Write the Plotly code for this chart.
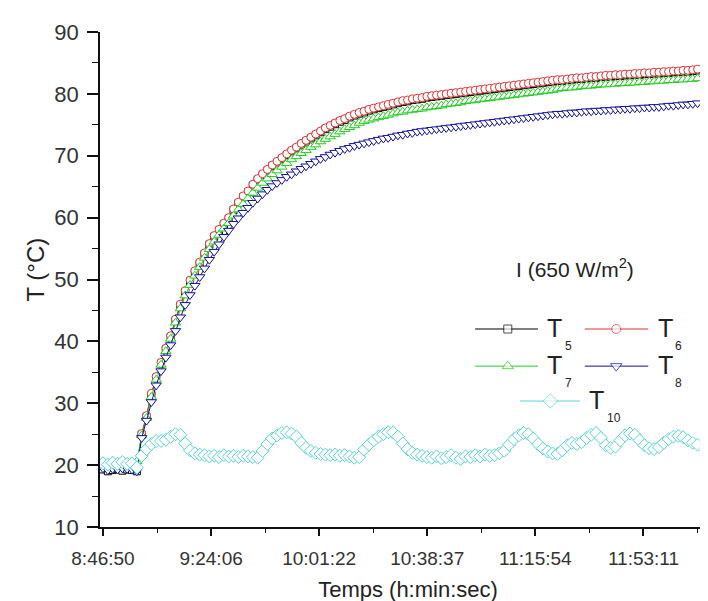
import plotly.graph_objects as go

# ---------------- data ----------------
START_SEC = 31610          # 8:46:50
STEP_SEC = 100             # sampling interval (s)

tick_labels = ["8:46:50", "9:24:06", "10:01:22", "10:38:37", "11:15:54", "11:53:11"]
tick_seconds = [31610, 33846, 36082, 38317, 40554, 42791]
minor_seconds = [32728, 34964, 37200, 39436, 41672, 43909]

T5 = [19.3, 19.0, 19.2, 19.4, 19.1, 19.3, 19.2, 19.0,
      24.9, 27.8, 31.3, 34.1, 36.4, 38.7, 40.7,
      43.4, 45.8, 48.0, 49.7, 51.2, 52.6, 54.1, 55.6, 56.9, 57.9,
      58.9, 59.8, 61.2, 62.3, 63.3, 64.1, 65.2, 66.1, 66.9, 67.6,
      68.3, 68.9, 69.5, 70.1, 70.7, 71.2, 71.8, 72.3, 72.8, 73.3,
      73.8, 74.3, 74.7, 75.1, 75.5, 75.8, 76.2, 76.5, 76.8, 77.0,
      77.3, 77.5, 77.7, 77.9, 78.1, 78.3, 78.5, 78.7, 78.8, 79.0,
      79.1, 79.2, 79.4, 79.5, 79.6, 79.7, 79.8, 79.9, 80.0, 80.1,
      80.2, 80.3, 80.4, 80.5, 80.6, 80.7, 80.8, 80.9, 81.0, 81.1,
      81.2, 81.3, 81.4, 81.5, 81.6, 81.7, 81.8, 81.9, 82.0, 82.1,
      82.1, 82.2, 82.3, 82.4, 82.4, 82.5, 82.6, 82.6, 82.7, 82.8,
      82.8, 82.9, 82.9, 83.0, 83.0, 83.1, 83.1, 83.2, 83.2, 83.3,
      83.3, 83.4, 83.4, 83.5, 83.5, 83.6, 83.6, 83.7, 83.8]

T6 = [19.8, 19.7, 19.9, 19.8, 19.9, 19.8, 19.7, 19.5,
      25.1, 28.0, 31.6, 34.3, 36.6, 38.9, 40.9,
      43.6, 46.0, 48.2, 49.9, 51.4, 52.8, 54.3, 55.8, 57.1, 58.1,
      59.1, 60.0, 61.4, 62.5, 63.5, 64.3, 65.4, 66.3, 67.1, 67.8,
      68.5, 69.1, 69.7, 70.3, 70.9, 71.4, 72.0, 72.5, 73.0, 73.5,
      74.0, 74.5, 74.9, 75.3, 75.7, 76.0, 76.4, 76.7, 77.0, 77.2,
      77.5, 77.7, 77.9, 78.1, 78.3, 78.5, 78.7, 78.9, 79.0, 79.2,
      79.3, 79.4, 79.6, 79.7, 79.8, 79.9, 80.0, 80.1, 80.2, 80.3,
      80.4, 80.5, 80.6, 80.7, 80.8, 80.9, 81.0, 81.1, 81.2, 81.3,
      81.4, 81.5, 81.6, 81.7, 81.8, 81.9, 82.0, 82.1, 82.2, 82.3,
      82.3, 82.4, 82.5, 82.6, 82.6, 82.7, 82.8, 82.8, 82.9, 83.0,
      83.0, 83.1, 83.1, 83.2, 83.2, 83.3, 83.3, 83.4, 83.4, 83.5,
      83.5, 83.6, 83.6, 83.7, 83.7, 83.8, 83.8, 83.9, 84.0]

T7 = [20.2, 20.3, 20.2, 20.4, 20.3, 20.4, 20.5, 20.6,
      24.8, 27.6, 31.0, 33.8, 36.2, 38.4, 40.4,
      43.0, 45.3, 47.4, 49.1, 50.6, 52.0, 53.5, 54.9, 56.1, 57.2,
      58.2, 59.1, 60.3, 61.3, 62.2, 63.1, 64.0, 64.8, 65.6, 66.3,
      67.0, 67.6, 68.2, 68.8, 69.4, 69.9, 70.4, 70.9, 71.4, 71.8,
      72.3, 72.7, 73.1, 73.5, 73.9, 74.3, 74.6, 74.9, 75.3, 75.6,
      75.8, 76.0, 76.2, 76.4, 76.6, 76.8, 77.0, 77.1, 77.3, 77.4,
      77.5, 77.6, 77.8, 77.9, 78.0, 78.1, 78.3, 78.4, 78.5, 78.6,
      78.8, 78.9, 79.0, 79.1, 79.2, 79.3, 79.4, 79.5, 79.6, 79.7,
      79.8, 79.9, 80.0, 80.1, 80.2, 80.3, 80.4, 80.5, 80.6, 80.8,
      80.9, 81.0, 81.0, 81.1, 81.2, 81.3, 81.3, 81.4, 81.5, 81.5,
      81.6, 81.6, 81.7, 81.7, 81.8, 81.8, 81.9, 81.9, 82.0, 82.0,
      82.1, 82.1, 82.2, 82.2, 82.3, 82.3, 82.4, 82.4, 82.5]

T8 = [19.5, 19.2, 19.4, 19.3, 19.5, 19.4, 19.3, 19.0,
      24.4, 27.2, 30.2, 32.9, 35.2, 37.4, 39.4,
      41.7, 43.9, 45.9, 47.5, 49.0, 50.4, 51.8, 53.2, 54.5, 55.7,
      56.9, 57.9, 59.0, 59.9, 60.8, 61.6, 62.4, 63.1, 63.8, 64.5,
      65.1, 65.6, 66.1, 66.6, 67.0, 67.5, 67.9, 68.3, 68.7, 69.1,
      69.5, 69.8, 70.2, 70.5, 70.8, 71.1, 71.3, 71.6, 71.8, 72.0,
      72.2, 72.4, 72.6, 72.8, 72.9, 73.1, 73.3, 73.4, 73.6, 73.7,
      73.9, 74.0, 74.1, 74.2, 74.3, 74.4, 74.5, 74.6, 74.7, 74.8,
      74.9, 75.0, 75.1, 75.2, 75.3, 75.4, 75.5, 75.6, 75.7, 75.8,
      75.9, 76.0, 76.1, 76.2, 76.3, 76.4, 76.5, 76.6, 76.7, 76.8,
      76.8, 76.9, 77.0, 77.0, 77.1, 77.2, 77.2, 77.3, 77.3, 77.4,
      77.4, 77.5, 77.5, 77.6, 77.6, 77.7, 77.7, 77.8, 77.8, 77.9,
      77.9, 78.0, 78.1, 78.1, 78.2, 78.3, 78.3, 78.4, 78.5]

T10 = [20.3, 20.1, 20.4, 20.2, 20.5, 20.2, 20.3, 19.6, 21.5, 22.6,
       23.4, 23.9, 23.9, 24.1, 24.6, 25.0, 24.9, 23.5, 22.4, 21.9,
       21.7, 21.6, 21.4, 21.5, 21.3, 21.6, 21.4, 21.5, 21.3, 21.5,
       21.4, 21.3, 21.2, 22.3, 23.4, 24.3, 24.8, 25.2, 25.3, 25.1,
       24.6, 23.6, 22.8, 22.3, 22.0, 21.8, 21.7, 21.6, 21.7, 21.5,
       21.6, 21.4, 21.2, 21.3, 22.5, 23.3, 24.0, 24.6, 25.0, 25.3,
       25.3, 24.6, 23.5, 22.6, 22.0, 21.7, 21.5, 21.3, 21.2, 21.4,
       21.1, 21.3, 21.6, 21.2, 21.0, 21.4, 21.3, 21.6, 21.4, 21.7,
       21.5, 21.6, 21.9, 22.3, 23.3, 24.2, 24.8, 25.2, 25.0, 24.3,
       23.4, 22.7, 22.2, 21.9, 21.8, 22.4, 23.2, 23.6, 23.4, 23.7,
       24.4, 24.9, 25.2, 24.4, 23.2, 22.8, 23.0, 24.0, 24.8, 25.1,
       24.9, 24.0, 23.2, 22.7, 22.6, 22.9, 23.6, 24.2, 24.6, 24.7,
       24.5, 24.0, 23.6, 23.3]

series_names = ["T5", "T6", "T7", "T8", "T10"]
series_values = [T5, T6, T7, T8, T10]
series_subs = ["5", "6", "7", "8", "10"]

# ---------------- styles ----------------
colors = ["#000000", "#e03232", "#22cc22", "#10109a", "#55d4d4"]
symbols = ["square", "circle", "triangle-up", "triangle-down", "diamond"]
sizes = [7, 8, 9, 9, 10]
FONT = "Liberation Sans, Arial, sans-serif"

times = [START_SEC + STEP_SEC * i for i in range(len(T6))]

fig = go.Figure()
for name, vals, c, s, sz in zip(series_names, series_values, colors, symbols, sizes):
    fig.add_trace(go.Scatter(
        x=times[:len(vals)], y=vals, name=name, mode="lines+markers",
        line=dict(color=c, width=1),
        marker=dict(symbol=s, size=sz, color="white", line=dict(color=c, width=1)),
        showlegend=False, cliponaxis=True))

# ---------------- custom legend (overlay axes in [0,1]) ----------------
# (x_left, x_marker, x_right, y) in plot-area fractions
leg_pos = [(0.609, 0.662, 0.711, 0.400),
           (0.787, 0.838, 0.890, 0.400),
           (0.609, 0.662, 0.711, 0.325),
           (0.787, 0.838, 0.890, 0.325),
           (0.682, 0.731, 0.779, 0.2545)]
annotations = []
for (x0, xm, x1, yy), c, s, sz, sub in zip(leg_pos, colors, symbols, sizes, series_subs):
    fig.add_trace(go.Scatter(
        x=[x0, xm, x1], y=[yy, yy, yy], xaxis="x2", yaxis="y2",
        mode="lines+markers", line=dict(color=c, width=1),
        marker=dict(symbol=s, size=[0, sz + 1, 0], color="white", line=dict(color=c, width=1)),
        showlegend=False, hoverinfo="skip"))
    annotations.append(dict(xref="x2", yref="y2", x=x1 + 0.012, y=yy + 0.002, text="T",
                            showarrow=False, xanchor="left", yanchor="middle",
                            font=dict(size=25, color="#222", family=FONT)))
    annotations.append(dict(xref="x2", yref="y2", x=x1 + 0.04, y=yy - 0.034, text=sub,
                            showarrow=False, xanchor="left", yanchor="middle",
                            font=dict(size=12, color="#222", family=FONT)))

annotations.append(dict(xref="paper", yref="paper", x=0.771, y=0.523,
                        text="I (650 W/m<sup>2</sup>)", showarrow=False,
                        xanchor="center", yanchor="middle",
                        font=dict(size=21, color="#222", family=FONT)))
# y-axis title (placed slightly above the plot centre, as in the reference)
annotations.append(dict(xref="paper", yref="paper", x=-0.104, y=0.52,
                        text="T (°C)", textangle=-90, showarrow=False,
                        xanchor="center", yanchor="middle",
                        font=dict(size=24, color="#222", family=FONT)))

fig.update_layout(
    width=708, height=601,
    margin=dict(l=92, r=0, t=24, b=82),
    paper_bgcolor="white", plot_bgcolor="white",
    font=dict(family=FONT, color="#222"),
    annotations=annotations,
    xaxis=dict(range=[31548, 44291], tickmode="array", tickvals=tick_seconds,
               ticktext=tick_labels, ticks="outside", ticklen=7, tickwidth=1.5,
               tickcolor="#111", showline=True, linecolor="#111", linewidth=1.5,
               showgrid=False, zeroline=False, tickfont=dict(size=19, color="#333"),
               ticklabelstandoff=6,
               minor=dict(tickmode="array", tickvals=minor_seconds, ticks="outside",
                          ticklen=4, tickwidth=1.2, tickcolor="#111"),
               title=dict(text="Temps (h:min:sec)", font=dict(size=22, color="#222"),
                          standoff=14)),
    yaxis=dict(range=[10, 90], dtick=10, tick0=10, ticks="outside", ticklen=11,
               tickwidth=1.5, tickcolor="#111", showline=True, linecolor="#111",
               linewidth=1.5, showgrid=False, zeroline=False,
               tickfont=dict(size=22, color="#333"), ticklabelstandoff=4,
               minor=dict(dtick=5, tick0=10, ticks="outside", ticklen=6, tickwidth=1.2,
                          tickcolor="#111")),
    xaxis2=dict(overlaying="x", range=[0, 1], visible=False, fixedrange=True),
    yaxis2=dict(overlaying="y", range=[0, 1], visible=False, fixedrange=True),
)

fig.write_html("out.html")
